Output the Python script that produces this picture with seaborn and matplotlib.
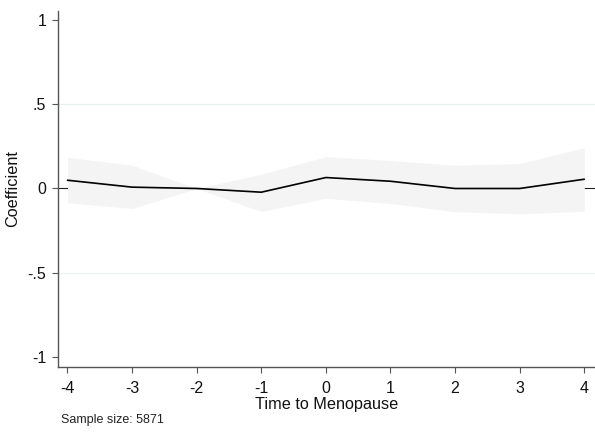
import matplotlib
matplotlib.use("Agg")
import matplotlib.pyplot as plt
import seaborn as sns
import pandas as pd

# Event-study estimates around menopause
time_to_menopause = [-4, -3, -2, -1, 0, 1, 2, 3, 4]
coefficient = [0.049, 0.008, 0.0, -0.022, 0.065, 0.043, 0.0, 0.0, 0.055]
ci_lower = [-0.085, -0.118, 0.0, -0.137, -0.058, -0.089, -0.138, -0.150, -0.136]
ci_upper = [0.185, 0.138, 0.0, 0.085, 0.189, 0.166, 0.138, 0.148, 0.241]
y_ticks = [-1, -0.5, 0, 0.5, 1]
y_tick_labels = ["-1", "-.5", "0", ".5", "1"]
sample_note = "Sample size: 5871"

df = pd.DataFrame({"t": time_to_menopause, "coef": coefficient,
                   "lo": ci_lower, "hi": ci_upper})

sns.set_theme(style="white")
plt.rcParams["font.family"] = ["Liberation Sans", "DejaVu Sans"]

fig = plt.figure(figsize=(5.95, 4.32), dpi=100)
W, H = 595, 432
ax = fig.add_axes([58 / W, (H - 367) / H, (W - 58) / W, (367 - 11) / H])

# light grid at interior ticks, reference line at zero
for yv in (-0.5, 0.5):
    ax.axhline(yv, color="#e8f0f2", lw=0.9, zorder=0)
ax.axhline(0, color="#222222", lw=0.8, zorder=1)

# confidence band drawn opaque over the reference line
ax.fill_between(df["t"], df["lo"], df["hi"], color="#f4f4f4", lw=0, zorder=2)
sns.lineplot(data=df, x="t", y="coef", color="black", lw=1.2, ax=ax, zorder=3)

ax.set_xlim(-4.147, 4.166)
ax.set_ylim(-1.059, 1.053)
ax.set_xticks(time_to_menopause)
ax.set_xticklabels([str(v) for v in time_to_menopause])
ax.set_yticks(y_ticks)
ax.set_yticklabels(y_tick_labels)

for s in ("top", "right"):
    ax.spines[s].set_visible(False)
for s in ("left", "bottom"):
    ax.spines[s].set_color("#555555")
    ax.spines[s].set_linewidth(1.0)

ax.tick_params(axis="both", which="major", length=4.5, width=0.8,
               color="#555555", labelsize=11.5, labelcolor="#111111",
               direction="out", left=True, bottom=True)
ax.tick_params(axis="x", pad=5.5)
ax.tick_params(axis="y", pad=4)
ax.set_xlabel("Time to Menopause", fontsize=11.7, color="#111111", labelpad=0.5)
ax.set_ylabel("Coefficient", fontsize=11.7, color="#111111", labelpad=5)

fig.text(61 / W, 1 - 420 / H, sample_note, fontsize=9, color="#222222",
         ha="left", va="center")

fig.savefig("out.png", dpi=100)
